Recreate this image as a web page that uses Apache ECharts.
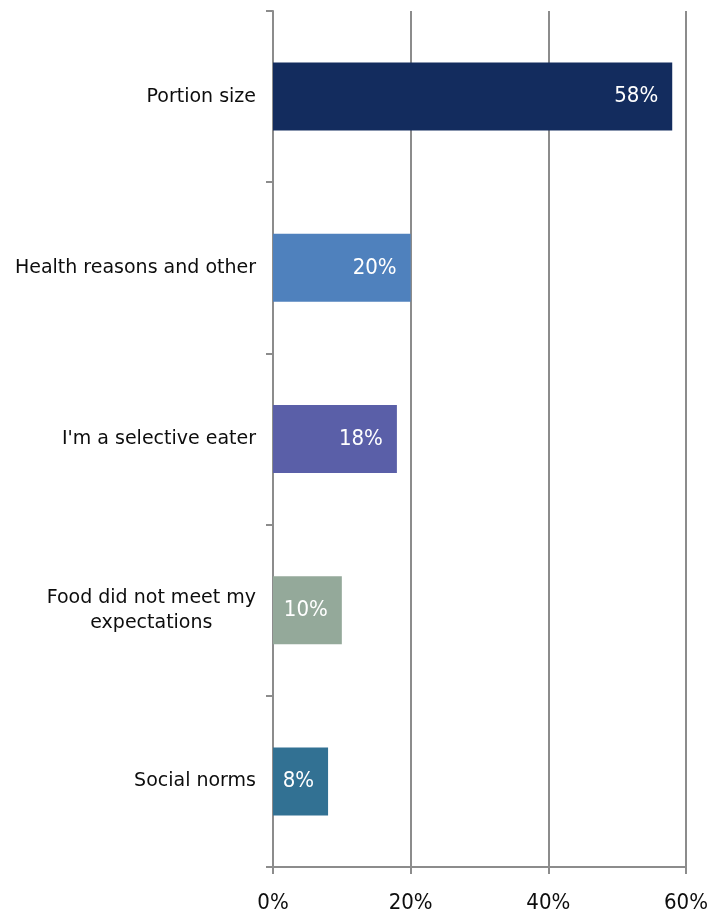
<!DOCTYPE html>
<html>
<head>
<meta charset="utf-8">
<style>
  html, body { margin: 0; padding: 0; background: #ffffff; }
  #chart { width: 715px; height: 914px; }
</style>
<script src="https://cdn.jsdelivr.net/npm/echarts@6/dist/echarts.min.js"></script>
</head>
<body>
<div id="chart"></div>
<script>
// Reasons for leaving food on the plate (share of respondents, %)
const categories = [
  'Portion size',
  'Health reasons and other',
  "I'm a selective eater",
  'Food did not meet my\nexpectations',
  'Social norms'
];
const shares = [58, 20, 18, 10, 8];
const barColors = ['#132c5e', '#4f81bd', '#5a5fa8', '#94a99a', '#327193'];
const axisTicks = [0, 20, 40, 60];

const chart = echarts.init(document.getElementById('chart'), null, { renderer: 'canvas' });

const fontFamily = '"DejaVu Sans", Verdana, sans-serif';
const numberFont = '"DejaVu Sans Condensed", "DejaVu Sans", sans-serif';
const gridGray = '#8c8c8c';

chart.setOption({
  animation: false,
  backgroundColor: '#ffffff',
  grid: { left: 273, right: 29, top: 11, bottom: 47, containLabel: false },
  xAxis: {
    type: 'value',
    min: axisTicks[0],
    max: axisTicks[axisTicks.length - 1],
    interval: axisTicks[1] - axisTicks[0],
    axisLine: { show: true, lineStyle: { color: gridGray, width: 2 } },
    axisTick: { show: true, length: 7, lineStyle: { color: gridGray, width: 2 } },
    splitLine: { show: true, lineStyle: { color: gridGray, width: 2 } },
    axisLabel: {
      formatter: '{value}%',
      color: '#0d0d0d',
      fontFamily: numberFont,
      fontSize: 22,
      margin: 25
    }
  },
  yAxis: {
    type: 'category',
    inverse: true,
    data: categories,
    axisLine: { show: true, lineStyle: { color: gridGray, width: 2 } },
    axisTick: { show: true, length: 7, lineStyle: { color: gridGray, width: 2 } },
    axisLabel: {
      color: '#0d0d0d',
      fontFamily: fontFamily,
      fontSize: 19,
      margin: 17,
      lineHeight: 25,
      formatter: function (v) {
        return v.split('\n').map(function (l) { return '{c|' + l + '}'; }).join('\n');
      },
      rich: {
        c: { align: 'center', color: '#0d0d0d', fontFamily: fontFamily, fontSize: 19, lineHeight: 25 }
      }
    }
  },
  series: [{
    type: 'bar',
    data: shares.map(function (v, i) {
      return { value: v, itemStyle: { color: barColors[i] } };
    }),
    barWidth: 68,
    label: {
      show: true,
      position: 'insideRight',
      distance: 14,
      formatter: '{c}%',
      color: '#ffffff',
      fontFamily: numberFont,
      fontSize: 22
    }
  }]
});
</script>
</body>
</html>
